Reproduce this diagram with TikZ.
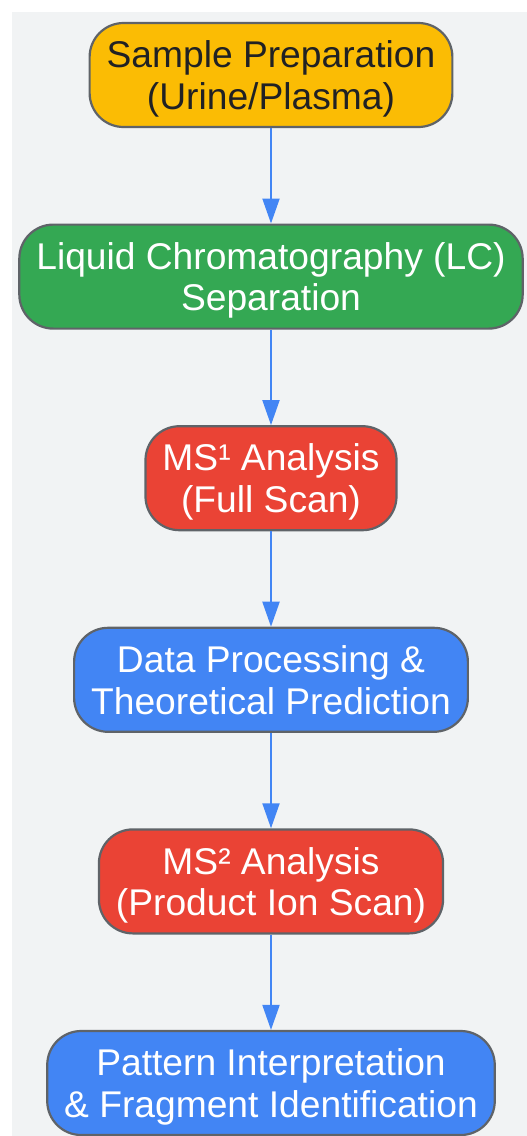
\documentclass[tikz,border=0pt]{standalone}
\usepackage{fontspec}
\setmainfont{Liberation Sans}
\usetikzlibrary{positioning,arrows.meta}
\definecolor{bgGray}{HTML}{F1F3F4}
\definecolor{edgeGray}{HTML}{5F6368}
\definecolor{txtDark}{HTML}{202124}
\definecolor{gYellow}{HTML}{FBBC04}
\definecolor{gGreen}{HTML}{34A853}
\definecolor{gRed}{HTML}{EA4335}
\definecolor{gBlue}{HTML}{4285F4}

\begin{document}
\begin{tikzpicture}[x=1pt,y=1pt,node distance=95.4pt,
	stage/.style={draw=edgeGray, line width=2.2pt, rounded corners=34pt,
		minimum height=104pt, inner xsep=17pt, align=center, text=white,
		text depth=0pt, font=\fontsize{37.2}{41.5}\selectfont},
	flow/.style={every edge/.style={draw=gBlue, line width=2pt,
		-{Triangle[length=25pt,width=17pt]}}}]
	\useasboundingbox (0,0) rectangle (527,-1136);
	\fill[bgGray] (12,-12) rectangle (527,-1136);
	\node[stage,fill=gYellow,text=txtDark] (prep) at (271,-75) {Sample Preparation\\(Urine/Plasma)};
	\node[stage,fill=gGreen,below=of prep] (lc) {Liquid Chromatography (LC)\\Separation};
	\node[stage,fill=gRed,below=of lc] (msone) {MS¹ Analysis\\(Full Scan)};
	\node[stage,fill=gBlue,below=of msone] (proc) {Data Processing \&\\Theoretical Prediction};
	\node[stage,fill=gRed,below=of proc] (mstwo) {MS² Analysis\\(Product Ion Scan)};
	\node[stage,fill=gBlue,below=of mstwo] (interp) {Pattern Interpretation\\\& Fragment Identification};
	\path[flow]
	(prep) edge (lc)
	(lc) edge (msone)
	(msone) edge (proc)
	(proc) edge (mstwo)
	(mstwo) edge (interp);
	
\end{tikzpicture}
\end{document}
